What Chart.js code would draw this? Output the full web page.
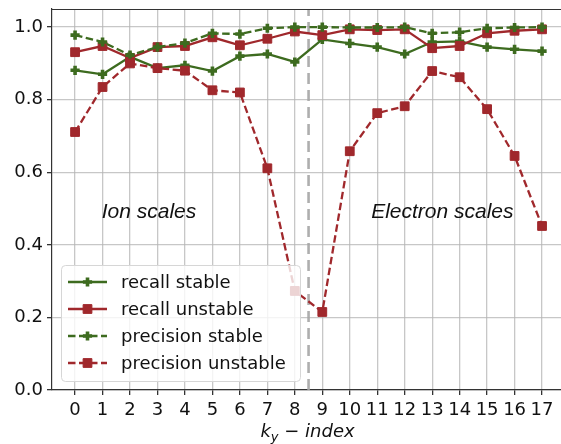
<!DOCTYPE html>
<html>
<head>
<meta charset="utf-8">
<script src="https://cdn.jsdelivr.net/npm/chart.js@4.4.0/dist/chart.umd.min.js"></script>
<style>
    body { margin: 0; background: #fff; }
    #wrap { width: 561px; height: 444px; }
</style>
</head>
<body>
<div id="wrap"><canvas id="myChart" width="561" height="444"></canvas></div>
<script>
// Data
var kyIndex = [0, 1, 2, 3, 4, 5, 6, 7, 8, 9, 10, 11, 12, 13, 14, 15, 16, 17];
var recallStable = [0.881, 0.870, 0.918, 0.887, 0.895, 0.879, 0.920, 0.926, 0.904, 0.966, 0.955, 0.945, 0.926, 0.959, 0.961, 0.945, 0.939, 0.934];
var recallUnstable = [0.931, 0.948, 0.915, 0.945, 0.948, 0.972, 0.950, 0.968, 0.988, 0.978, 0.994, 0.992, 0.994, 0.942, 0.948, 0.983, 0.990, 0.994];
var precisionStable = [0.978, 0.959, 0.923, 0.945, 0.956, 0.983, 0.981, 0.997, 1.0, 1.0, 0.999, 0.999, 1.0, 0.983, 0.986, 0.997, 0.999, 1.0];
var precisionUnstable = [0.711, 0.835, 0.900, 0.887, 0.880, 0.826, 0.820, 0.611, 0.273, 0.215, 0.658, 0.763, 0.782, 0.879, 0.862, 0.774, 0.645, 0.452];
var yTicks = [0, 0.2, 0.4, 0.6, 0.8, 1.0];
var seriesNames = ['recall stable', 'recall unstable', 'precision stable', 'precision unstable'];
var regionLabels = ['Ion scales', 'Electron scales'];

var green = '#3d6b1f';
var red = '#a0282c';
var dash = [7.5, 3.5];

function points(values) {
    return kyIndex.map((k, i) => ({ x: k, y: values[i] }));
}

function series(name, values, color, style, dashed, order) {
    return {
        label: name,
        data: points(values),
        borderColor: color,
        backgroundColor: color,
        borderWidth: 2.3,
        borderDash: dashed ? dash : [],
        pointStyle: style,
        pointRadius: style === 'rect' ? 6.2 : 4.6,
        pointBorderWidth: style === 'rect' ? 1 : 3.6,
        pointBackgroundColor: color,
        pointBorderColor: color,
        tension: 0,
        order: order
    };
}

// Extra drawing: separator, region labels, legend, top spine, x title
var extras = {
    id: 'extras',
    beforeDatasetsDraw(chart) {
        var ctx = chart.ctx, a = chart.chartArea, xs = chart.scales.x;
        var xp = xs.getPixelForValue(8.5);
        ctx.save();
        ctx.strokeStyle = 'rgba(165,165,165,0.9)';
        ctx.lineWidth = 2.6;
        ctx.setLineDash([11, 6]);
        ctx.beginPath();
        ctx.moveTo(xp, a.bottom);
        ctx.lineTo(xp, a.top);
        ctx.stroke();
        ctx.restore();
    },
    afterDatasetsDraw(chart) {
        var ctx = chart.ctx, a = chart.chartArea;
        var xs = chart.scales.x, ys = chart.scales.y;
        ctx.save();

        // top spine
        ctx.strokeStyle = '#333';
        ctx.lineWidth = 1.2;
        ctx.beginPath();
        ctx.moveTo(a.left, a.top + 0.5);
        ctx.lineTo(a.right, a.top + 0.5);
        ctx.stroke();

        // region labels
        ctx.fillStyle = '#111';
        ctx.font = 'italic 21px "Liberation Sans"';
        ctx.textAlign = 'center';
        ctx.textBaseline = 'middle';
        ctx.fillText(regionLabels[0], xs.getPixelForValue(2.69), ys.getPixelForValue(0.49));
        ctx.fillText(regionLabels[1], xs.getPixelForValue(13.37), ys.getPixelForValue(0.49));

        // legend
        var lx = 61, ly = 265, lw = 239, lh = 116;
        ctx.beginPath();
        ctx.roundRect(lx + 0.5, ly + 0.5, lw, lh, 4);
        ctx.fillStyle = 'rgba(255,255,255,0.8)';
        ctx.fill();
        ctx.strokeStyle = '#d6d6d6';
        ctx.lineWidth = 1;
        ctx.stroke();

        chart.data.datasets.forEach((ds, i) => {
            var y = 282 + i * 27;
            ctx.strokeStyle = ds.borderColor;
            ctx.fillStyle = ds.borderColor;
            ctx.lineWidth = ds.borderWidth;
            ctx.setLineDash(ds.borderDash);
            ctx.beginPath();
            ctx.moveTo(68, y);
            ctx.lineTo(107, y);
            ctx.stroke();
            ctx.setLineDash([]);
            ctx.lineWidth = ds.pointBorderWidth;
            Chart.helpers.drawPoint(ctx, {
                pointStyle: ds.pointStyle,
                rotation: 0,
                radius: ds.pointRadius,
                borderWidth: ds.pointBorderWidth
            }, 87.5, y);
            ctx.fillStyle = '#111';
            ctx.font = '18px "DejaVu Sans"';
            ctx.textAlign = 'left';
            ctx.textBaseline = 'middle';
            ctx.fillText(ds.label, 121, y + 1);
        });

        // x axis title: k_y - index
        var big = 'italic 18px "DejaVu Sans"', small = 'italic 13px "DejaVu Sans"';
        ctx.fillStyle = '#111';
        ctx.textAlign = 'left';
        ctx.textBaseline = 'alphabetic';
        ctx.font = big;
        var wk = ctx.measureText('k').width;
        var wr = ctx.measureText(' \u2212 index').width;
        ctx.font = small;
        var wy = ctx.measureText('y').width;
        var x0 = 307.5 - (wk + wy + wr) / 2, base = 437;
        ctx.font = big;
        ctx.fillText('k', x0, base);
        ctx.font = small;
        ctx.fillText('y', x0 + wk, base + 4);
        ctx.font = big;
        ctx.fillText(' \u2212 index', x0 + wk + wy, base);

        ctx.restore();
    }
};

var ctx = document.getElementById('myChart').getContext('2d');
var myChart = new Chart(ctx, {
    type: 'line',
    data: {
        datasets: [
            series(seriesNames[0], recallStable, green, 'cross', false, 4),
            series(seriesNames[1], recallUnstable, red, 'rect', false, 3),
            series(seriesNames[2], precisionStable, green, 'cross', true, 2),
            series(seriesNames[3], precisionUnstable, red, 'rect', true, 1)
        ]
    },
    options: {
        responsive: false,
        animation: false,
        layout: { autoPadding: false, padding: { top: 9, left: 0, right: 0, bottom: 0 } },
        plugins: {
            legend: { display: false },
            tooltip: { enabled: false }
        },
        scales: {
            x: {
                type: 'linear',
                min: -0.84,
                max: 17.69,
                afterBuildTicks: scale => { scale.ticks = kyIndex.map(v => ({ value: v })); },
                afterFit: scale => {
                    scale.height = 54;
                    scale.paddingLeft = 0;
                    scale.paddingRight = 0;
                },
                ticks: {
                    autoSkip: false,
                    maxRotation: 0,
                    padding: 5,
                    color: '#111',
                    font: { family: 'DejaVu Sans', size: 18 },
                    callback: v => String(v)
                },
                grid: {
                    color: 'rgba(180,180,180,0.75)',
                    lineWidth: 1.3,
                    tickLength: 5,
                    tickColor: '#333'
                },
                border: { color: '#333', width: 1.2 }
            },
            y: {
                min: 0,
                max: 1.05,
                afterBuildTicks: scale => { scale.ticks = yTicks.map(v => ({ value: v })); },
                afterFit: scale => {
                    scale.width = 52;
                    scale.paddingTop = 0;
                    scale.paddingBottom = 0;
                },
                ticks: {
                    padding: 4,
                    color: '#111',
                    font: { family: 'DejaVu Sans', size: 18 },
                    callback: v => v.toFixed(1)
                },
                grid: {
                    color: 'rgba(180,180,180,0.75)',
                    lineWidth: 1.3,
                    tickLength: 5,
                    tickColor: '#333'
                },
                border: { color: '#333', width: 1.2 }
            }
        }
    },
    plugins: [extras]
});
</script>
</body>
</html>
